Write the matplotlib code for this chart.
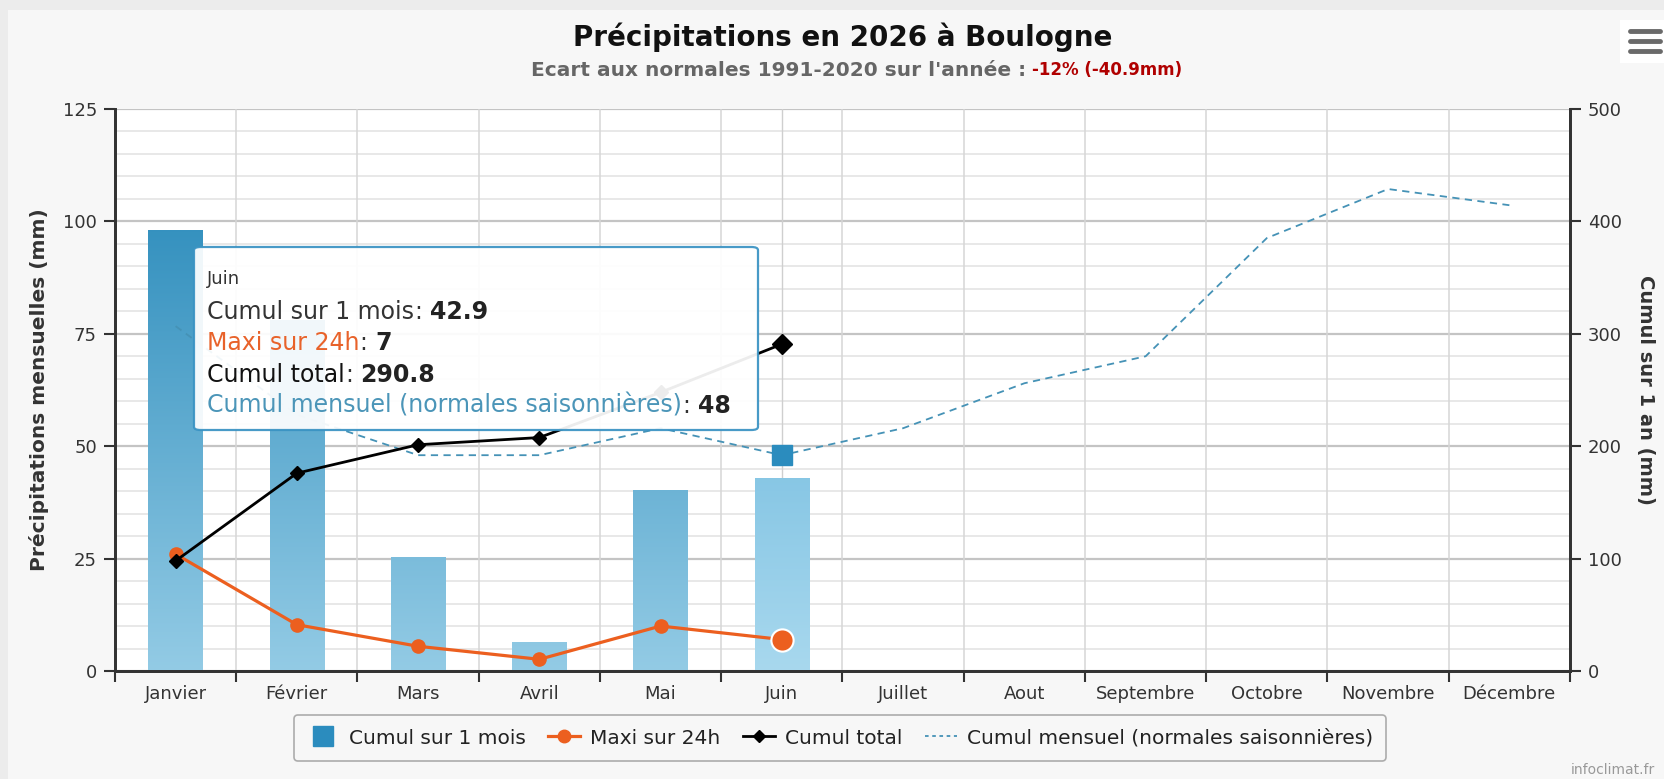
import numpy as np
import matplotlib
matplotlib.use("Agg")
import matplotlib.pyplot as plt
from matplotlib.colors import LinearSegmentedColormap
from matplotlib.lines import Line2D
from matplotlib.patches import FancyBboxPatch, Rectangle

# Data
mois = ["Janvier", "Février", "Mars", "Avril", "Mai", "Juin", "Juillet",
        "Aout", "Septembre", "Octobre", "Novembre", "Décembre"]
cumul_mois = [98.0, 78.0, 25.3, 6.4, 40.2, 42.9]
maxi_24h = [26.0, 10.3, 5.5, 2.6, 10.0, 7.0]
cumul_total = [98.0, 176.0, 201.3, 207.7, 247.9, 290.8]
normales = [76.7, 57.0, 48.0, 48.0, 54.0, 48.0, 54.0, 64.0, 70.0, 96.3, 107.2, 103.6]

W, H = 1665, 779
fig = plt.figure(figsize=(W / 100, H / 100), dpi=100)
fig.patch.set_facecolor("#ececec")
fig.patches.append(Rectangle((8 / W, 0), 1, 1 - 10 / H, transform=fig.transFigure,
                             facecolor="#f7f7f7", edgecolor="none", zorder=-10))

ax = fig.add_axes([115 / W, 108 / H, 1455 / W, 562 / H])
ax2 = ax.twinx()
ax.set_facecolor("white")

x = np.arange(len(mois))
xb = np.arange(len(cumul_mois))

# bars with vertical gradient (gradient spans whole plot height)
cmap_n = LinearSegmentedColormap.from_list("b", ["#93cbe5", "#1c82b5"])
cmap_h = LinearSegmentedColormap.from_list("bh", ["#a8d8ee", "#4aa6d3"])
bars = ax.bar(xb, cumul_mois, width=0.45, color="none", edgecolor="none", zorder=2)
grad = np.linspace(0, 1, 256).reshape(-1, 1)
for i, b in enumerate(bars):
    cm = cmap_h if i == 5 else cmap_n
    im = ax.imshow(grad, cmap=cm, origin="lower", aspect="auto",
                   extent=(b.get_x(), b.get_x() + b.get_width(), 0, 125),
                   zorder=2, interpolation="bilinear")
    im.set_clip_path(b)

# gridlines
for v in np.arange(0, 126, 5):
    major = v % 25 == 0
    ax.axhline(v, color="#c4c4c4" if major else "#e2e2e2",
               lw=1.6 if major else 1.1, zorder=0.5)
for xv in np.arange(-0.5, 12, 1):
    ax.axvline(xv, color="#d6d6d6", lw=1.1, zorder=0.5)
ax.axvline(5, color="#cfcfcf", lw=1.0, zorder=0.6)

# normals dashed
ax.plot(x, normales, color="#4592b6", lw=1.3, ls=(0, (4, 3)), zorder=3)
ax.plot(5, normales[5], marker="s", ms=15, color="#2b8cbe", ls="none", zorder=4)

# maxi 24h
ax.plot(xb, maxi_24h, color="#ec5f1f", lw=2.3, marker="o", ms=9.5, zorder=5)
ax.plot(5, maxi_24h[5], marker="o", ms=16, color="#ec5f1f", mec="white", mew=1.5,
        ls="none", zorder=6)

# cumul total on right axis
ax2.plot(xb, cumul_total, color="black", lw=2.0, marker="D", ms=7, zorder=5)
ax2.plot(5, cumul_total[5], marker="D", ms=10, color="black", ls="none", zorder=6)

ax.set_xlim(-0.5, 11.5)
ax.set_ylim(0, 125)
ax2.set_ylim(0, 500)
ax.set_yticks([0, 25, 50, 75, 100, 125])
ax2.set_yticks([0, 100, 200, 300, 400, 500])
ax.set_xticks(x)
ax.set_xticklabels(mois)
ax.set_xticks(np.arange(-0.5, 12, 1), minor=True)
ax.tick_params(axis="x", which="major", length=0, pad=10, labelsize=13, labelcolor="#333333")
ax.tick_params(axis="x", which="minor", length=8, width=1.5, color="#333333")
ax.tick_params(axis="y", length=8, width=1.5, color="#333333", labelsize=13,
               labelcolor="#333333", pad=5)
ax2.tick_params(axis="y", length=8, width=1.5, color="#333333", labelsize=13,
                labelcolor="#333333", pad=5)

for a in (ax, ax2):
    a.spines["top"].set_visible(False)
    for s in ("left", "right", "bottom"):
        a.spines[s].set_color("#333333")
        a.spines[s].set_linewidth(2)

ax.set_ylabel("Précipitations mensuelles (mm)", fontsize=14.5, fontweight="bold",
              color="#333333", labelpad=10)
ax2.set_ylabel("Cumul sur 1 an (mm)", fontsize=14, fontweight="bold", color="#333333",
               rotation=270, labelpad=24)

# titles
fig.text(843 / W, 1 - 37 / H, "Précipitations en 2026 à Boulogne", ha="center", va="center",
         fontsize=20, fontweight="bold", color="#111111")
fig.text(1026 / W, 1 - 70 / H, "Ecart aux normales 1991-2020 sur l'année :", ha="right",
         va="center", fontsize=14.5, fontweight="bold", color="#666666")
fig.text(1032 / W, 1 - 70 / H, "-12% (-40.9mm)", ha="left", va="center",
         fontsize=12, fontweight="bold", color="#b00000")

# tooltip
fig.patches.append(FancyBboxPatch((194 / W, 1 - 430 / H), 564 / W, 183 / H,
                                  boxstyle="round,pad=0,rounding_size=0.004",
                                  transform=fig.transFigure, facecolor="white",
                                  alpha=0.93, edgecolor="#3a93c3", lw=1.6, zorder=8))
tx = 207 / W
fig.text(tx, 1 - 279 / H, "Juin", fontsize=13, color="#333333", va="center", zorder=9)
rows = [("Cumul sur 1 mois", "#333333", "42.9"),
        ("Maxi sur 24h", "#e8622a", "7"),
        ("Cumul total", "#111111", "290.8"),
        ("Cumul mensuel (normales saisonnières)", "#4b95b8", "48")]
r = fig.canvas.get_renderer()
for k, (lab, col, val) in enumerate(rows):
    yy = 1 - (312 + 31.3 * k) / H
    t = fig.text(tx, yy, lab, fontsize=17, color=col, va="center", zorder=9)
    bb = t.get_window_extent(renderer=r)
    t2 = fig.text(bb.x1 / W, yy, ":", fontsize=17, color="#333333", va="center", zorder=9)
    bb2 = t2.get_window_extent(renderer=r)
    fig.text(bb2.x1 / W + 8 / W, yy, val, fontsize=17, fontweight="bold",
             color="#222222", va="center", zorder=9)

# legend
handles = [Line2D([], [], color="#2b8cbe", marker="s", ms=14, ls="none"),
           Line2D([], [], color="#ec5f1f", lw=2.3, marker="o", ms=9),
           Line2D([], [], color="black", lw=2.0, marker="D", ms=6.5),
           Line2D([], [], color="#4592b6", lw=1.3, ls=(0, (2, 2)))]
labels = ["Cumul sur 1 mois", "Maxi sur 24h", "Cumul total",
          "Cumul mensuel (normales saisonnières)"]
leg = fig.legend(handles, labels, loc="center", bbox_to_anchor=(840 / W, 1 - 738 / H),
                 ncol=4, fontsize=14.5, frameon=True, fancybox=True,
                 handlelength=1.6, handletextpad=0.5, columnspacing=1.1,
                 borderpad=0.65, labelcolor="#222222")
leg.get_frame().set_edgecolor("#999999")
leg.get_frame().set_facecolor("#f7f7f7")
leg.get_frame().set_linewidth(1.2)

# menu icon
fig.patches.append(Rectangle((1620 / W, 1 - 63 / H), 45 / W, 43 / H, transform=fig.transFigure,
                             facecolor="white", edgecolor="none", zorder=2))
for yy in (31, 41, 51):
    fig.lines.append(Line2D([1630 / W, 1660 / W], [1 - yy / H] * 2, transform=fig.transFigure,
                            color="#6a6a6a", lw=3.5, solid_capstyle="round", zorder=3))

fig.text(1655 / W, 2 / H, "infoclimat.fr", fontsize=10, color="#999999",
         ha="right", va="bottom")

fig.savefig("out.png", dpi=100, facecolor=fig.get_facecolor())
